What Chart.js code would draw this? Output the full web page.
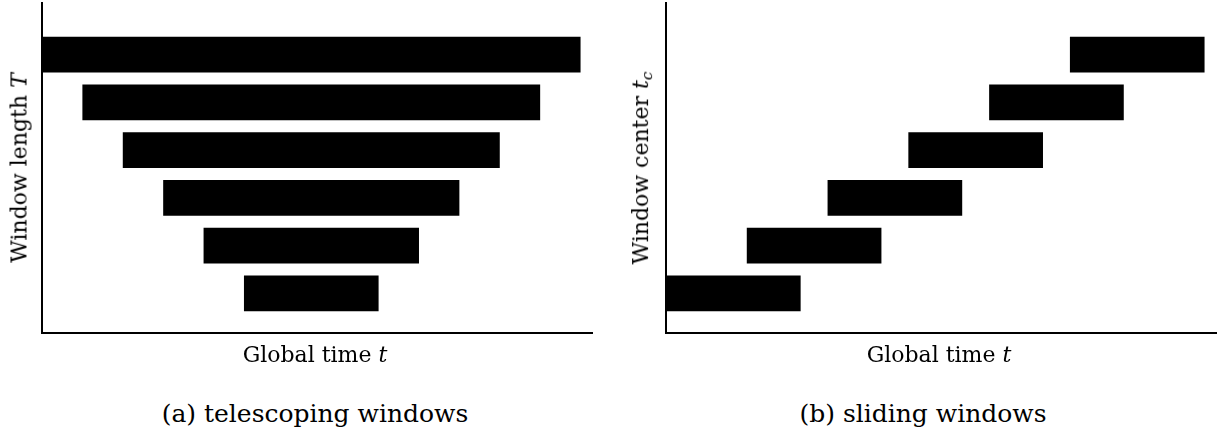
<!DOCTYPE html>
<html>
<head>
<meta charset="utf-8">
<script src="https://cdn.jsdelivr.net/npm/chart.js@4"></script>
<style>
    body { margin: 0; background: #fff; width: 1224px; height: 439px; position: relative; overflow: hidden; }
    canvas { position: absolute; top: 0; }
    #left-chart { left: 0; }
    #right-chart { left: 620px; }
    .label {
        position: absolute;
        font-family: "DejaVu Serif", serif;
        font-size: 22px;
        color: #000;
        white-space: nowrap;
        transform: translate(-50%, -50%);
    }
    .label.vert { transform: translate(-50%, -50%) rotate(-90deg); }
    .label.caption { font-size: 25px; }
    .label sub { font-size: 70%; vertical-align: -0.25em; }
</style>
</head>
<body>
<canvas id="left-chart" width="610" height="345"></canvas>
<canvas id="right-chart" width="604" height="345"></canvas>

<div class="label vert" style="left:19px; top:168px;">Window length <i>T</i></div>
<div class="label" style="left:315px; top:354px;">Global time <i>t</i></div>
<div class="label caption" style="left:315px; top:413px;">(a) telescoping windows</div>

<div class="label vert" style="left:642px; top:168px;">Window center <i>t<sub>c</sub></i></div>
<div class="label" style="left:939px; top:354px;">Global time <i>t</i></div>
<div class="label caption" style="left:923px; top:413px;">(b) sliding windows</div>

<script>
// row positions, bottom to top
const rows = [1, 2, 3, 4, 5, 6];

// (a) telescoping windows: start / end time per row
const teleStart = [15, 12, 9, 6, 3, 0];
const teleEnd = [25, 28, 31, 34, 37, 40];

// (b) sliding windows
const slideStart = [0, 6, 12, 18, 24, 30];
const slideEnd = [10, 16, 22, 28, 34, 40];

// axis ranges
const tMin = 0;
const tMax = 40.85;
const rowMin = 0.17;
const rowMax = 7.08;

function toBars(starts, ends) {
    return rows.map((r, i) => ({ y: r, x: [starts[i], ends[i]] }));
}

function drawWindows(canvasId, starts, ends, padding) {
    const ctx = document.getElementById(canvasId).getContext('2d');
    return new Chart(ctx, {
        type: 'bar',
        data: {
            datasets: [{
                data: toBars(starts, ends),
                backgroundColor: '#000',
                borderWidth: 0,
                barPercentage: 0.75,
                categoryPercentage: 1
            }]
        },
        options: {
            indexAxis: 'y',
            responsive: false,
            animation: false,
            devicePixelRatio: 1,
            layout: { padding: padding },
            plugins: {
                legend: { display: false },
                tooltip: { enabled: false }
            },
            scales: {
                x: {
                    type: 'linear',
                    min: tMin,
                    max: tMax,
                    grid: { display: false, drawTicks: false },
                    ticks: { display: false },
                    border: { display: true, color: '#000', width: 2 }
                },
                y: {
                    type: 'linear',
                    min: rowMin,
                    max: rowMax,
                    offset: false,
                    // hidden ticks only on the rows, so bar thickness follows row spacing
                    afterBuildTicks: scale => { scale.ticks = rows.map(v => ({ value: v })); },
                    grid: { display: false, drawTicks: false, offset: false },
                    ticks: { display: false },
                    border: { display: true, color: '#000', width: 2 }
                }
            }
        }
    });
}

drawWindows('left-chart', teleStart, teleEnd, { left: 42, right: 18, top: 3, bottom: 12 });
drawWindows('right-chart', slideStart, slideEnd, { left: 46, right: 8, top: 3, bottom: 12 });
</script>
</body>
</html>
